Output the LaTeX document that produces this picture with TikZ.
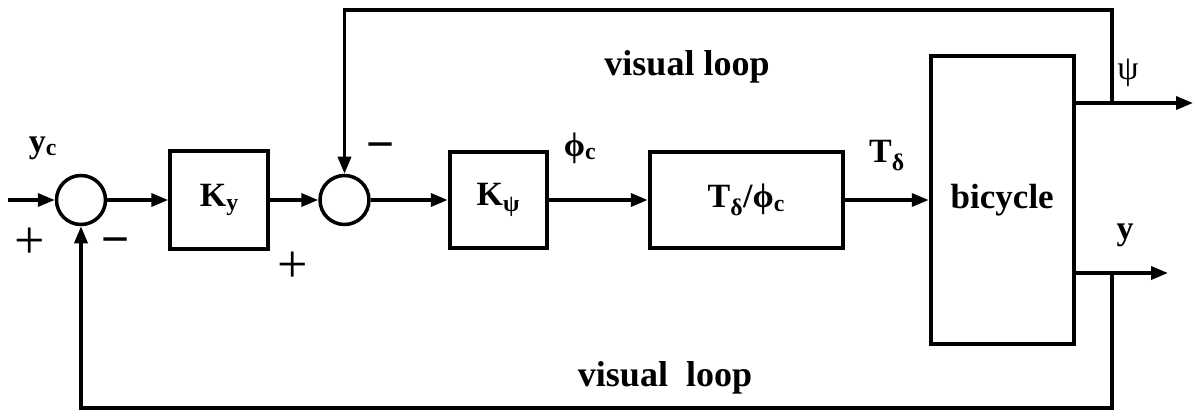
\documentclass[tikz,border=0pt]{standalone}
\usepackage{fontspec}
\setmainfont{Liberation Serif}
\newfontfamily\signfont{Liberation Sans}
\usepackage{tikz}
\usetikzlibrary{calc, positioning, arrows.meta}

\newcommand{\diaglbl}{\bfseries\fontsize{34}{38}\selectfont}
\newcommand{\pluslbl}{\mdseries\fontsize{54}{56}\selectfont}
\newcommand{\minuslbl}{\signfont\fontsize{48}{50}\selectfont}

\tikzset{
  blk/.style={draw, rectangle, line width=4pt, inner sep=0pt},
  sumpt/.style={draw, circle, line width=3.5pt, minimum size=49pt, inner sep=0pt},
  sig/.style={-{Triangle[length=17pt, width=13pt]}, line width=3.5pt},
  wire/.style={line width=3.5pt}
}

\begin{document}
\begin{tikzpicture}[x=1pt, y=-1pt, every node/.style={font=\diaglbl}]
        \useasboundingbox (0,0) rectangle (1195,417);

        \coordinate (in) at (8,200);
        \node[sumpt] (s1) at (81,200) {};
        \node[blk, minimum width=98pt, minimum height=97pt, right=61pt of s1] (ky) {K\textsubscript{y}};
        \node[sumpt, right=48pt of ky] (s2) {};
        \node[blk, minimum width=97pt, minimum height=96pt, right=77pt of s2] (kpsi) {K\textsubscript{ψ}};
        \node[blk, minimum width=193pt, minimum height=96pt, right=99pt of kpsi] (ratio) {T\textsubscript{δ}/ϕ\textsubscript{c}};
        \node[blk, minimum width=143pt, minimum height=287pt, right=84pt of ratio] (bike) {\fontsize{35}{40}\selectfont bicycle};

        % outputs and loop corners
        \coordinate (psitap) at (1112,103);
        \coordinate (psiend) at (1193,103);
        \coordinate (ytap) at (1112,273);
        \coordinate (yend) at (1168,273);
        \coordinate (topr) at (1112,10);
        \coordinate (topl) at (s2.north |- topr);
        \coordinate (botr) at (1112,408);
        \coordinate (botl) at (s1.south |- botr);

        % forward path
        \draw[sig] (in) -- (s1.west);
        \draw[sig] (s1.east) -- (ky.west);
        \draw[sig] (ky.east) -- (s2.west);
        \draw[sig] (s2.east) -- (kpsi.west);
        \draw[sig] (kpsi.east) -- (ratio.west);
        \draw[sig] (ratio.east) -- (bike.west);
        \draw[sig] (bike.east |- psitap) -- (psiend);
        \draw[sig] (bike.east |- ytap) -- (yend);

        % visual loops
        \draw[sig] (psitap) -- (topr) -- (topl) -- (s2.north);
        \draw[sig] (ytap) -- (botr) -- (botl) -- (s1.south);

        % labels
        \node (yc) at (43,148) {y\textsubscript{c}};
        \node (phic) at (580,148) {ϕ\textsubscript{c}};
        \node (td) at (887,156) {T\textsubscript{δ}};
        \node (psi) at (1128,73) {\mdseries ψ};
        \node (yout) at (1125,235) {y};
        \node[font=\diaglbl\fontsize{36}{40}\selectfont] (vtop) at (687,67) {visual loop};
        \node[font=\diaglbl\fontsize{36}{40}\selectfont] (vbot) at (665,378) {visual\ \ loop};

        \node[font=\pluslbl] (p1) at (30,243) {+};
        \node[font=\minuslbl] (m1) at (116,247) {−};
        \node[font=\pluslbl] (p2) at (293,267) {+};
        \node[font=\minuslbl] (m2) at (381,152) {−};
    \end{tikzpicture}
\end{document}
